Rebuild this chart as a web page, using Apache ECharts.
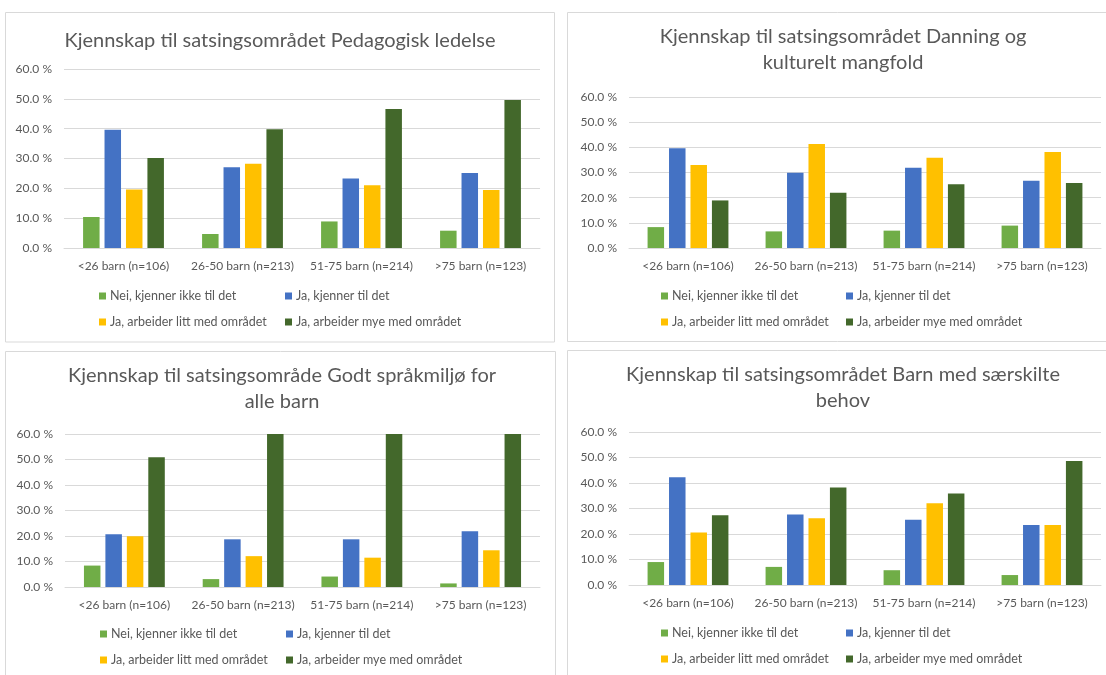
<!DOCTYPE html>
<html>
<head>
<meta charset="utf-8">
<script src="https://cdn.jsdelivr.net/npm/echarts@6/dist/echarts.min.js"></script>
<style>
    html, body { margin: 0; padding: 0; background: #fff; }
    #main { width: 1106px; height: 675px; }
</style>
</head>
<body>
<div id="main"></div>
<script>
// kategorier og serier
const categories = ['<26 barn (n=106)', '26-50 barn (n=213)', '51-75 barn (n=214)', '>75 barn (n=123)'];
const seriesNames = ['Nei, kjenner ikke til det', 'Ja, kjenner til det', 'Ja, arbeider litt med området', 'Ja, arbeider mye med området'];
const yTicks = [0, 10, 20, 30, 40, 50, 60];

// verdier i prosent, en rad per serie
const pedagogiskLedelse = [
    [10.4, 4.7, 8.9, 5.8],
    [39.6, 27.1, 23.3, 25.1],
    [19.6, 28.2, 21.0, 19.4],
    [30.2, 39.8, 46.6, 49.6]
];
const danningMangfold = [
    [8.3, 6.6, 6.9, 8.9],
    [39.6, 29.9, 31.9, 26.7],
    [33.0, 41.3, 35.9, 38.1],
    [18.9, 22.0, 25.3, 25.8]
];
const godtSprakmiljo = [
    [8.4, 3.1, 4.1, 1.4],
    [20.7, 18.7, 18.7, 21.9],
    [19.9, 12.1, 11.5, 14.4],
    [50.9, 66.1, 65.7, 62.3]   // over 60 % blir kuttet av aksen
];
const saerskilteBehov = [
    [9.0, 7.1, 5.8, 3.9],
    [42.3, 27.6, 25.6, 23.5],
    [20.6, 26.2, 32.1, 23.5],
    [27.4, 38.2, 35.9, 48.6]
];

const colors = ['#70ad47', '#4472c4', '#ffc000', '#43682b'];
const txt = '#595959';
const font = 'Lato';

// panel: ramme, tittel, plott og forklaring
const panels = [
    { title: 'Kjennskap til satsingsområdet Pedagogisk ledelse', data: pedagogiskLedelse,
      box: [5.5, 12.5, 549, 329.5], tx: 280, ty: 28, grid: [64, 69, 476, 179], leg: [99, 285, 289] },
    { title: 'Kjennskap til satsingsområdet Danning og\nkulturelt mangfold', data: danningMangfold,
      box: [567.5, 12.5, 600, 329], tx: 843, ty: 24, grid: [629, 97, 472, 151], leg: [661, 846, 289] },
    { title: 'Kjennskap til satsingsområde Godt språkmiljø for\nalle barn', data: godtSprakmiljo,
      box: [5.5, 351.5, 550, 400], tx: 282, ty: 363, grid: [65, 434, 475, 153], leg: [100, 286, 627] },
    { title: 'Kjennskap til satsingsområdet Barn med særskilte\nbehov', data: saerskilteBehov,
      box: [567.5, 350.5, 600, 400], tx: 843, ty: 362, grid: [629, 432, 472, 153], leg: [661, 846, 626] }
];

let chart = echarts.init(document.getElementById('main'));

let title = [], grid = [], xAxis = [], yAxis = [], series = [], legend = [], graphic = [];

panels.forEach(function (p, i) {
    graphic.push({
        type: 'rect',
        shape: { x: p.box[0], y: p.box[1], width: p.box[2], height: p.box[3] },
        style: { fill: 'none', stroke: '#d9d9d9', lineWidth: 1 },
        silent: true
    });
    title.push({
        text: p.title,
        left: p.tx,
        top: p.ty,
        textAlign: 'center',
        padding: 0,
        textStyle: { fontFamily: font, fontSize: 20, fontWeight: 'normal', color: txt, lineHeight: 26 }
    });
    grid.push({ left: p.grid[0], top: p.grid[1], width: p.grid[2], height: p.grid[3], containLabel: false });
    xAxis.push({
        type: 'category',
        gridIndex: i,
        data: categories,
        axisLine: { lineStyle: { color: '#d9d9d9' } },
        axisTick: { show: false },
        axisLabel: { color: txt, fontFamily: font, fontSize: 12, margin: 12, interval: 0 }
    });
    yAxis.push({
        type: 'value',
        gridIndex: i,
        min: yTicks[0],
        max: yTicks[yTicks.length - 1],
        interval: 10,
        axisLine: { show: false },
        axisTick: { show: false },
        splitLine: { lineStyle: { color: '#d9d9d9' } },
        axisLabel: {
            color: txt, fontFamily: font, fontSize: 12, margin: 12,
            formatter: function (v) { return v.toFixed(1) + ' %'; }
        }
    });
    seriesNames.forEach(function (name, k) {
        series.push({
            name: name,
            type: 'bar',
            xAxisIndex: i,
            yAxisIndex: i,
            barWidth: 16.5,
            barGap: '30%',
            clip: true,
            itemStyle: { color: colors[k] },
            data: p.data[k]
        });
    });
    // to kolonner med forklaring
    [[seriesNames[0], seriesNames[2]], [seriesNames[1], seriesNames[3]]].forEach(function (names, c) {
        legend.push({
            data: names,
            orient: 'vertical',
            left: p.leg[c],
            top: p.leg[2],
            padding: 0,
            itemGap: 12,
            itemWidth: 7,
            itemHeight: 7,
            icon: 'rect',
            textStyle: { color: txt, fontFamily: font, fontSize: 12.5, lineHeight: 14, padding: [0, 0, 0, -1] }
        });
    });
});

const option = {
    animation: false,
    color: colors,
    title: title,
    grid: grid,
    xAxis: xAxis,
    yAxis: yAxis,
    legend: legend,
    graphic: graphic,
    series: series
};
chart.setOption(option);
</script>
</body>
</html>
